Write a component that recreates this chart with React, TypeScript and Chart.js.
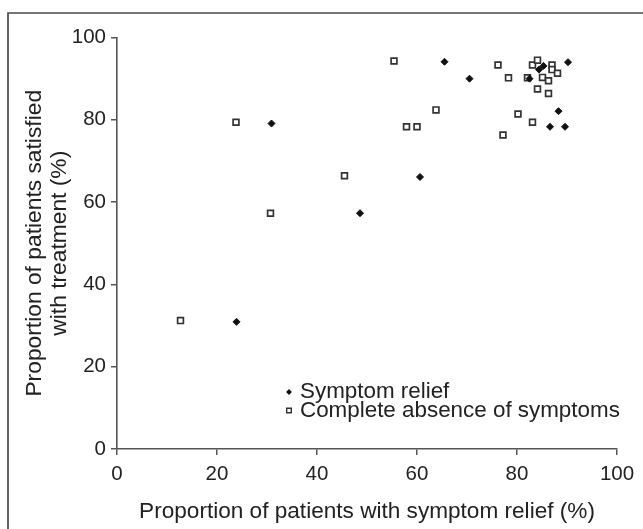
import React, { useEffect, useRef } from 'react';
import { Chart, registerables } from 'chart.js';

Chart.register(...registerables);

// Symptom relief (filled diamonds)
const reliefX = [23.9, 30.9, 48.6, 60.6, 65.5, 70.5, 82.5, 84.4, 85.3, 90.2, 88.3, 86.6, 89.6];
const reliefY = [30.9, 79.1, 57.3, 66.1, 94.1, 90.0, 90.0, 92.2, 93.1, 94.0, 82.1, 78.3, 78.3];

// Complete absence of symptoms (open squares)
const absenceX = [12.7, 23.8, 30.7, 45.5, 55.4, 57.9, 60.0, 63.8, 76.2, 77.2, 78.3, 80.2, 82.1, 83.1, 83.1, 84.1, 84.1, 85.1, 86.3, 86.3, 87.0, 87.0, 88.1];
const absenceY = [31.2, 79.4, 57.3, 66.4, 94.3, 78.3, 78.3, 82.4, 93.3, 76.3, 90.2, 81.4, 90.2, 93.3, 79.4, 94.5, 87.5, 90.3, 89.5, 86.4, 93.3, 92.2, 91.3];

const seriesLabels = ['Symptom relief', 'Complete absence of symptoms'];
const xTickValues = [0, 20, 40, 60, 80, 100];
const yTickValues = [0, 20, 40, 60, 80, 100];
const xTitle = 'Proportion of patients with symptom relief (%)';
const yTitle = ['Proportion of patients satisfied', 'with treatment (%)'];

const FONT = "'Liberation Sans', Arial, Helvetica, sans-serif";
const AXIS_COLOR = '#555';
const TEXT_COLOR = '#222';

const framePlugin = {
  id: 'frame',
  beforeDraw(chart: any) {
    const ctx = chart.ctx;
    ctx.save();
    ctx.strokeStyle = '#4a4a4a';
    ctx.lineWidth = 1.7;
    ctx.beginPath();
    ctx.moveTo(8, chart.height + 5);
    ctx.lineTo(8, 13);
    ctx.lineTo(chart.width + 5, 13);
    ctx.stroke();
    ctx.restore();
  },
};

const insideLegendPlugin = {
  id: 'insideLegend',
  afterDatasetsDraw(chart: any) {
    const ctx = chart.ctx;
    const area = chart.chartArea;
    const markerX = area.left + 172;
    const textX = area.left + 183;
    const rows = [area.bottom - 57, area.bottom - 38.5];
    ctx.save();
    chart.data.datasets.forEach((ds: any, i: number) => {
      const y = rows[i];
      ctx.beginPath();
      if (ds.pointStyle === 'rectRot') {
        const r = 2.9;
        ctx.moveTo(markerX, y - r);
        ctx.lineTo(markerX + r, y);
        ctx.lineTo(markerX, y + r);
        ctx.lineTo(markerX - r, y);
        ctx.closePath();
        ctx.fillStyle = ds.backgroundColor;
        ctx.fill();
      } else {
        const s = 4.6;
        ctx.rect(markerX - s / 2, y - s / 2, s, s);
        ctx.fillStyle = '#fff';
        ctx.fill();
        ctx.lineWidth = 1.4;
        ctx.strokeStyle = ds.borderColor;
        ctx.stroke();
      }
      ctx.fillStyle = TEXT_COLOR;
      ctx.font = `22.4px ${FONT}`;
      ctx.textAlign = 'left';
      ctx.textBaseline = 'middle';
      ctx.fillText(ds.label, textX, y);
    });
    ctx.restore();
  },
};

export default function App() {
  const canvasRef = useRef<HTMLCanvasElement | null>(null);

  useEffect(() => {
    const canvas = canvasRef.current;
    if (!canvas) return;
    const chart = new Chart(canvas, {
      type: 'scatter',
      data: {
        datasets: [
          {
            label: seriesLabels[0],
            data: reliefX.map((x, i) => ({ x, y: reliefY[i] })),
            pointStyle: 'rectRot',
            pointRadius: 3.5,
            backgroundColor: '#111',
            borderColor: '#111',
            borderWidth: 1,
          },
          {
            label: seriesLabels[1],
            data: absenceX.map((x, i) => ({ x, y: absenceY[i] })),
            pointStyle: 'rect',
            pointRadius: 4.1,
            backgroundColor: '#fff',
            borderColor: '#333',
            borderWidth: 1.7,
          },
        ],
      },
      options: {
        animation: false,
        responsive: false,
        devicePixelRatio: 1,
        events: [],
        layout: { padding: { top: 37.5, right: 26, bottom: 0, left: 0 } },
        plugins: {
          legend: { display: false },
          tooltip: { enabled: false },
        },
        scales: {
          x: {
            type: 'linear',
            min: 0,
            max: 100,
            afterBuildTicks: (s: any) => {
              s.ticks = xTickValues.map((v) => ({ value: v }));
            },
            afterFit: (s: any) => {
              s.height = 80;
            },
            ticks: {
              color: TEXT_COLOR,
              font: { family: FONT, size: 20.5 },
              padding: 7,
              maxRotation: 0,
              autoSkip: false,
            },
            grid: {
              drawOnChartArea: false,
              drawTicks: true,
              tickLength: 6,
              color: AXIS_COLOR,
              lineWidth: 1.5,
            },
            border: { display: true, color: AXIS_COLOR, width: 1.6 },
            title: {
              display: true,
              text: xTitle,
              color: TEXT_COLOR,
              font: { family: FONT, size: 22.6, lineHeight: 1.1 },
              padding: { top: 0, bottom: 5 },
            },
          },
          y: {
            type: 'linear',
            min: 0,
            max: 100,
            afterBuildTicks: (s: any) => {
              s.ticks = yTickValues.map((v) => ({ value: v }));
            },
            afterFit: (s: any) => {
              s.width = 117;
            },
            ticks: {
              color: TEXT_COLOR,
              font: { family: FONT, size: 20.5 },
              padding: 5,
              autoSkip: false,
            },
            grid: {
              drawOnChartArea: false,
              drawTicks: true,
              tickLength: 6,
              color: AXIS_COLOR,
              lineWidth: 1.5,
            },
            border: { display: true, color: AXIS_COLOR, width: 1.6 },
            title: {
              display: true,
              text: yTitle,
              color: TEXT_COLOR,
              font: { family: FONT, size: 22.8, lineHeight: 1.1 },
              padding: { top: 22.5, bottom: 0 },
            },
          },
        },
      },
      plugins: [framePlugin, insideLegendPlugin],
    } as any);
    return () => chart.destroy();
  }, []);

  return (
    <div style={{ position: 'fixed', left: 0, top: 0, width: 643, height: 529, background: '#fff' }}>
      <canvas ref={canvasRef} width={643} height={529} style={{ display: 'block' }} />
    </div>
  );
}
